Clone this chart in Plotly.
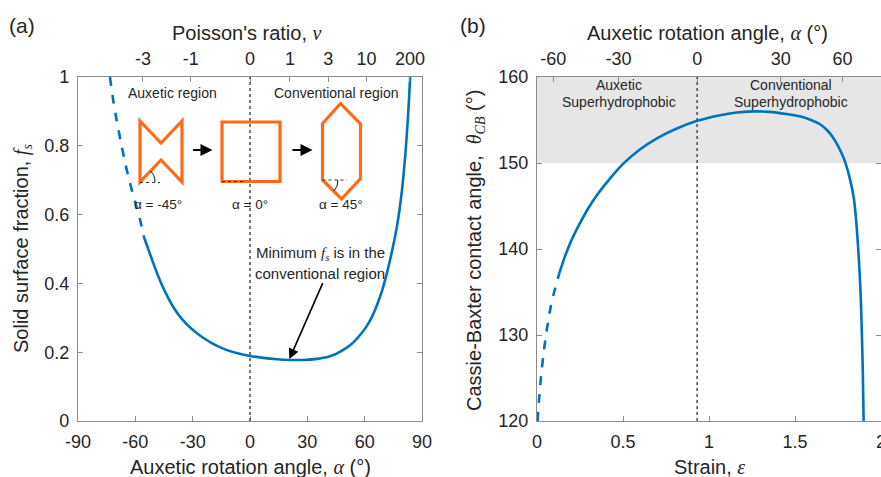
import plotly.graph_objects as go

W, H = 881, 477

# ---------------- data ----------------
# Panel (a): solid surface fraction vs auxetic rotation angle
alpha_dashed = [-73.3, -71.5, -69.8, -67.0, -64.5, -62.0, -60.0, -57.5, -55.5]
fs_dashed = [1.0, 0.93, 0.875, 0.795, 0.73, 0.675, 0.635, 0.585, 0.535]
alpha_solid = [-55.5, -52.3, -49.0, -46.2, -43.0, -40.0, -35.7, -30.0, -25.3, -20.0, -14.1, -7.0, 0.0,
               7.0, 14.0, 20.9, 28.0, 35.0, 41.9, 48.0, 53.0, 57.6, 61.0, 64.0, 66.5, 69.0, 71.5,
               73.5, 75.5, 77.0, 78.3, 79.5, 80.5, 81.5, 82.5, 83.2, 83.8]
fs_solid = [0.535, 0.485, 0.435, 0.397, 0.36, 0.33, 0.297, 0.265, 0.245, 0.2265, 0.2105, 0.1975, 0.189,
            0.1835, 0.1795, 0.1775, 0.1775, 0.1805, 0.188, 0.204, 0.223, 0.250, 0.275, 0.305, 0.338, 0.377, 0.427,
            0.473, 0.525, 0.569, 0.617, 0.67, 0.725, 0.79, 0.87, 0.935, 1.0]
alpha_ticks = [-90, -60, -30, 0, 30, 60, 90]
fs_ticks = [0, 0.2, 0.4, 0.6, 0.8, 1]
fs_ticklabels = ["0", "0.2", "0.4", "0.6", "0.8", "1"]
poisson_tick_alpha = [-56.0, -31.0, 0.0, 20.9, 41.0, 61.0, 83.7]
poisson_labels = ["-3", "-1", "0", "1", "3", "10", "200"]
alpha_zero = 0.0
min_point = (20.6, 0.18)
min_arrow_tail = (38.4, 0.405)

# Panel (b): Cassie-Baxter contact angle vs strain
eps_dashed = [0.003, 0.012, 0.025, 0.041, 0.06, 0.08, 0.10, 0.13]
theta_dashed = [120.0, 122.5, 125.5, 128.3, 131.0, 133.3, 135.0, 137.2]
eps_solid = [0.13, 0.16, 0.20, 0.25, 0.30, 0.35, 0.40, 0.45, 0.50, 0.60, 0.70, 0.80, 0.931, 1.05, 1.15,
             1.26, 1.35, 1.45, 1.533, 1.60, 1.65, 1.69, 1.72, 1.75, 1.775, 1.795, 1.82, 1.842, 1.856,
             1.867, 1.876, 1.883, 1.889, 1.894, 1.899]
theta_solid = [137.2, 139.0, 141.0, 143.0, 144.8, 146.3, 147.6, 148.8, 149.9, 151.6, 152.9, 153.9, 154.9,
               155.5, 155.85, 156.0, 155.95, 155.7, 155.4, 154.95, 154.45, 153.75, 153.0, 152.0, 150.95,
               149.9, 148.1, 145.9, 143.2, 140.2, 137.1, 134.0, 130.0, 126.0, 120.0]
strain_ticks = [0, 0.5, 1, 1.5, 2]
strain_ticklabels = ["0", "0.5", "1", "1.5", "2"]
theta_ticks = [120, 130, 140, 150, 160]
angle_tick_strain = [0.095, 0.474, 0.931, 1.417, 1.776]
angle_labels = ["-60", "-30", "0", "30", "60"]
superhydrophobic_band = (150, 160)
strain_at_alpha_zero = 0.931

# ---------------- styling ----------------
BLUE = "#0072BD"
ORANGE = "#FF6A1A"
AXC = "#8c8c8c"
TXT = "#262626"
FONT = "Arial, Liberation Sans, sans-serif"
SERIF = "Liberation Serif, Times New Roman, serif"
SMOOTH = 0.6


def px(x):
    return x / W


def py(y):
    return 1 - y / H


fig = go.Figure()

fig.add_trace(go.Scatter(x=alpha_dashed, y=fs_dashed, mode="lines", xaxis="x", yaxis="y",
                         line=dict(color=BLUE, width=2.6, dash="dash", shape="spline", smoothing=SMOOTH),
                         showlegend=False, hoverinfo="skip"))
fig.add_trace(go.Scatter(x=alpha_solid, y=fs_solid, mode="lines", xaxis="x", yaxis="y",
                         line=dict(color=BLUE, width=2.6, shape="spline", smoothing=SMOOTH),
                         showlegend=False, hoverinfo="skip"))
fig.add_trace(go.Scatter(x=poisson_tick_alpha, y=[None] * len(poisson_tick_alpha), mode="markers",
                         xaxis="x3", yaxis="y", marker=dict(opacity=0), showlegend=False, hoverinfo="skip"))

fig.add_trace(go.Scatter(x=eps_dashed, y=theta_dashed, mode="lines", xaxis="x2", yaxis="y2",
                         line=dict(color=BLUE, width=2.6, dash="dash", shape="spline", smoothing=SMOOTH),
                         showlegend=False, hoverinfo="skip"))
fig.add_trace(go.Scatter(x=eps_solid, y=theta_solid, mode="lines", xaxis="x2", yaxis="y2",
                         line=dict(color=BLUE, width=2.6, shape="spline", smoothing=SMOOTH),
                         showlegend=False, hoverinfo="skip"))
fig.add_trace(go.Scatter(x=angle_tick_strain, y=[None] * len(angle_tick_strain), mode="markers",
                         xaxis="x4", yaxis="y2", marker=dict(opacity=0), showlegend=False, hoverinfo="skip"))

common = dict(showgrid=False, zeroline=False, showline=True, linecolor=AXC, linewidth=1.2,
              ticks="inside", ticklen=5, tickcolor=AXC, tickwidth=1, automargin=False,
              ticklabeloverflow="allow", ticklabelstandoff=4,
              tickfont=dict(family=FONT, size=18, color=TXT))

ydom = [py(421), py(77)]
fig.update_layout(
    template="none",
    width=W, height=H, margin=dict(l=0, r=0, t=0, b=0, pad=0),
    paper_bgcolor="white", plot_bgcolor="white",
    font=dict(family=FONT, color=TXT),
    xaxis=dict(domain=[px(78), px(422)], anchor="y", range=[-90, 90], tickmode="array",
               tickvals=alpha_ticks, ticktext=[str(v) for v in alpha_ticks], **common),
    yaxis=dict(domain=ydom, anchor="x", range=[0, 1], tickmode="array", tickvals=fs_ticks,
               ticktext=fs_ticklabels, mirror="ticks", **common),
    xaxis3=dict(overlaying="x", anchor="y", side="top", range=[-90, 90], tickmode="array",
                tickvals=poisson_tick_alpha, ticktext=poisson_labels, **common),
    xaxis2=dict(domain=[px(537), 1.0], anchor="y2", range=[0, 2], tickmode="array",
                tickvals=strain_ticks, ticktext=strain_ticklabels, **common),
    yaxis2=dict(domain=ydom, anchor="x2", range=[120, 160], tickmode="array", tickvals=theta_ticks,
                ticktext=[str(v) for v in theta_ticks], mirror="ticks", **common),
    xaxis4=dict(overlaying="x2", anchor="y2", side="top", range=[0, 2], tickmode="array",
                tickvals=angle_tick_strain, ticktext=angle_labels, **common),
)

shapes = []
shapes.append(dict(type="rect", xref="x2", yref="y2", x0=0, x1=2, y0=superhydrophobic_band[0],
                   y1=superhydrophobic_band[1], fillcolor="#e6e6e6", line=dict(width=0), layer="below"))
shapes.append(dict(type="line", xref="x", yref="y domain", x0=alpha_zero, x1=alpha_zero, y0=0, y1=1,
                   line=dict(color="#555555", width=1.6, dash="dot")))
shapes.append(dict(type="line", xref="x2", yref="y2 domain", x0=strain_at_alpha_zero, x1=strain_at_alpha_zero,
                   y0=0, y1=1, line=dict(color="#555555", width=1.6, dash="dot")))


def poly(points, close=True):
    s = "M " + " L ".join(f"{px(a):.5f},{py(b):.5f}" for a, b in points)
    return s + (" Z" if close else "")


# inset unit-cell sketches (illustration)
bowtie = [(140, 121), (161, 143), (182, 121), (182, 182), (161, 160), (140, 182)]
square = [(222, 122), (280, 122), (280, 181.5), (222, 181.5)]
hexa = [(340.5, 103.5), (360.5, 124), (360.5, 178.5), (341.5, 199), (322.5, 180), (322.5, 123.5)]
for shp in (bowtie, square, hexa):
    shapes.append(dict(type="path", xref="paper", yref="paper", path=poly(shp),
                       line=dict(color=ORANGE, width=3.2)))
for (x0, x1, yy) in [(140, 160, 182.5), (222, 243, 181.5), (322.5, 347, 180)]:
    shapes.append(dict(type="line", xref="paper", yref="paper", x0=px(x0), x1=px(x1), y0=py(yy), y1=py(yy),
                       line=dict(color="#333333", width=1, dash="dot")))
shapes.append(dict(type="path", xref="paper", yref="paper",
                   path=f"M {px(155):.5f},{py(182):.5f} Q {px(155):.5f},{py(175):.5f} {px(150.5):.5f},{py(171):.5f}",
                   line=dict(color="#111111", width=1)))
shapes.append(dict(type="path", xref="paper", yref="paper",
                   path=f"M {px(338):.5f},{py(180):.5f} Q {px(338):.5f},{py(187):.5f} {px(334):.5f},{py(191):.5f}",
                   line=dict(color="#111111", width=1)))
fig.update_layout(shapes=shapes)

ann = []


def text(x, y, t, size, angle=0, xanchor="center"):
    ann.append(dict(x=px(x), y=py(y), xref="paper", yref="paper", text=t, showarrow=False,
                    font=dict(family=FONT, size=size, color=TXT), textangle=angle,
                    xanchor=xanchor, yanchor="middle"))


def it(s):
    return f"<span style='font-family:{SERIF}'><i>{s}</i></span>"


text(22, 25, "(a)", 21)
text(473, 25, "(b)", 21)
text(247, 33, "Poisson's ratio, " + it("ν"), 20)
text(250, 467, "Auxetic rotation angle, " + it("α") + " (°)", 20)
text(22, 249, "Solid surface fraction, " + it("f<sub>s</sub>"), 20, angle=-90)
text(707, 33, "Auxetic rotation angle, " + it("α") + " (°)", 20)
text(709, 467, "Strain, " + it("ε"), 20)
text(475, 250, "Cassie-Baxter contact angle,  " + it("θ<sub>CB</sub>") + " (°)", 20, angle=-90)

text(172.5, 93, "Auxetic region", 14)
text(336.5, 93, "Conventional region", 14)
text(158, 204, "α = -45°", 13.5)
text(250, 204, "α = 0°", 13.5)
text(341, 204, "α = 45°", 13.5)
text(320, 254, "Minimum " + it("f<sub>s</sub>") + " is in the", 15)
text(320, 273, "conventional region", 15)
text(619, 85, "Auxetic", 14)
text(619, 102, "Superhydrophobic", 14)
text(791, 85, "Conventional", 14)
text(791, 102, "Superhydrophobic", 14)

ann.append(dict(x=min_point[0], y=min_point[1], xref="x", yref="y", ax=min_arrow_tail[0], ay=min_arrow_tail[1],
                axref="x", ayref="y", text="", showarrow=True, arrowhead=2, arrowsize=1.3,
                arrowwidth=1.6, arrowcolor="black"))
for (xt, xh) in [(191.5, 212.5), (291, 312.5)]:
    ann.append(dict(x=px(xh), y=py(150), xref="paper", yref="paper", ax=xt - xh, ay=0, text="",
                    showarrow=True, arrowhead=2, arrowsize=1.2, arrowwidth=2, arrowcolor="black"))
fig.update_layout(annotations=ann)

fig.write_html("out.html", config={"displayModeBar": False},
               post_script="document.body.style.margin='0px';document.body.style.padding='0px';")
